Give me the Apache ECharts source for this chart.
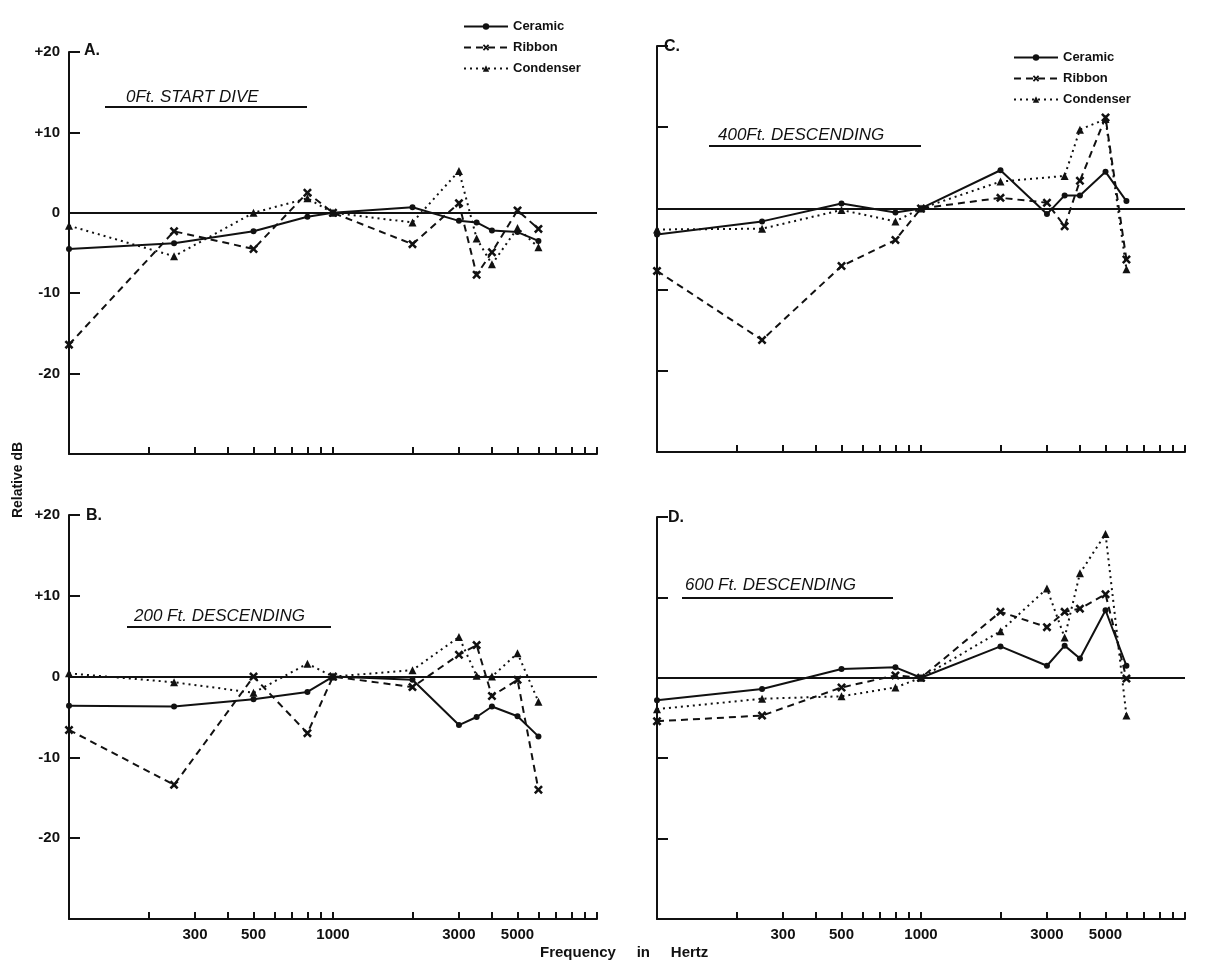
<!DOCTYPE html>
<html>
<head>
<meta charset="utf-8">
<title>Relative dB vs frequency</title>
<script src="https://cdn.jsdelivr.net/npm/echarts@6/dist/echarts.min.js"></script>
<style>
  html, body { margin: 0; padding: 0; background: #fff; }
  #chart { width: 1216px; height: 966px; }
</style>
</head>
<body>
<div id="chart"></div>
<script>
// frequencies measured (Hz)
var freqs = [100, 250, 500, 800, 1000, 2000, 3000, 3500, 4000, 5000, 6000];

// A. 0 ft, start dive
var ceramicA   = [-4.5, -3.8, -2.3, -0.5, 0, 0.7, -1.0, -1.2, -2.2, -2.4, -3.5];
var ribbonA    = [-16.4, -2.3, -4.5, 2.5, 0, -3.9, 1.2, -7.7, -4.9, 0.3, -2.0];
var condenserA = [-1.6, -5.4, 0, 1.8, 0, -1.2, 5.2, -3.2, -6.4, -1.9, -4.3];

// B. 200 ft descending
var ceramicB   = [-3.6, -3.7, -2.8, -1.9, 0, -0.4, -6.0, -5.0, -3.7, -4.9, -7.4];
var ribbonB    = [-6.6, -13.4, 0, -7.0, 0, -1.3, 2.7, 3.9, -2.4, -0.4, -14.0];
var condenserB = [0.4, -0.7, -2.0, 1.6, 0, 0.8, 4.9, 0.1, 0, 2.9, -3.1];

// C. 400 ft descending
var ceramicC   = [-3.2, -1.6, 0.6, -0.5, 0, 4.7, -0.7, 1.6, 1.6, 4.5, 0.9];
var ribbonC    = [-7.7, -16.2, -7.1, -3.9, 0, 1.3, 0.7, -2.2, 3.4, 11.2, -6.3];
var condenserC = [-2.6, -2.5, -0.2, -1.6, 0, 3.3, null, 4.0, 9.7, 11.0, -7.5];

// D. 600 ft descending
var ceramicD   = [-2.8, -1.4, 1.1, 1.3, 0, 3.9, 1.5, 4.0, 2.4, 8.4, 1.5];
var ribbonD    = [-5.4, -4.7, -1.2, 0.3, 0, 8.2, 6.3, 8.2, 8.6, 10.4, -0.1];
var condenserD = [-3.9, -2.6, -2.3, -1.2, 0, 5.8, 11.1, 5.0, 13.0, 17.9, -4.7];

var tickFreqs  = [200, 300, 400, 500, 600, 700, 800, 900, 1000,
                  2000, 3000, 4000, 5000, 6000, 7000, 8000, 9000, 10000];
var labelFreqs = [300, 500, 1000, 3000, 5000];

var ink = '#111';
var font = 'Liberation Sans';
var crossPath = 'path://M0,2L2,0L5,3L8,0L10,2L7,5L10,8L8,10L5,7L2,10L0,8L3,5Z';

function pairs(vals) {
	return freqs.map(function (f, i) { return [f, vals[i]]; });
}

function makeX(idx, withLabels) {
	return {
		type: 'log', logBase: 10, min: 100, max: 10000, gridIndex: idx,
		axisLine: { onZero: false, lineStyle: { color: ink, width: 2 } },
		axisTick: { inside: true, length: 7, customValues: tickFreqs, lineStyle: { color: ink, width: 2 } },
		axisLabel: {
			show: withLabels, customValues: labelFreqs, margin: 8,
			color: ink, fontFamily: font, fontWeight: 'bold', fontSize: 15,
			formatter: function (v) { return String(v); }
		},
		minorTick: { show: false },
		splitLine: { show: false }
	};
}

function makeY(idx, withLabels) {
	return {
		type: 'value', min: -30, max: 20, interval: 10, gridIndex: idx,
		axisLine: { show: true, lineStyle: { color: ink, width: 2 } },
		axisTick: { show: true, inside: true, length: 11, lineStyle: { color: ink, width: 2 } },
		axisLabel: {
			show: withLabels, margin: 9, color: ink, fontFamily: font, fontWeight: 'bold', fontSize: 15,
			formatter: function (v) {
				if (v === -30) return '';
				return v > 0 ? '+' + v : String(v);
			}
		},
		splitLine: { show: false }
	};
}

function makeSeries(idx, ceramic, ribbon, condenser) {
	return [{
		name: 'Ceramic', type: 'line', xAxisIndex: idx, yAxisIndex: idx,
		data: pairs(ceramic), connectNulls: true,
		symbol: 'circle', symbolSize: 6,
		lineStyle: { color: ink, width: 2, type: 'solid' },
		itemStyle: { color: ink },
		markLine: {
			silent: true, symbol: 'none', label: { show: false },
			lineStyle: { color: ink, width: 2, type: 'solid' },
			data: [{ yAxis: 0 }]
		}
	}, {
		name: 'Ribbon', type: 'line', xAxisIndex: idx, yAxisIndex: idx,
		data: pairs(ribbon), connectNulls: true,
		symbol: crossPath, symbolSize: 9,
		lineStyle: { color: ink, width: 2, type: [7, 5] },
		itemStyle: { color: ink }
	}, {
		name: 'Condenser', type: 'line', xAxisIndex: idx, yAxisIndex: idx,
		data: pairs(condenser), connectNulls: true,
		symbol: 'triangle', symbolSize: 8,
		lineStyle: { color: ink, width: 2, type: [2, 4] },
		itemStyle: { color: ink }
	}];
}

function legendAt(left, top) {
	return {
		left: left, top: top, orient: 'vertical', itemGap: 8,
		itemWidth: 44, itemHeight: 8,
		data: ['Ceramic', 'Ribbon', 'Condenser'],
		textStyle: { color: ink, fontFamily: font, fontWeight: 'bold', fontSize: 13 }
	};
}

function heading(x, y, text, lineFrom, lineTo, lineY) {
	return [{
		type: 'text', x: x, y: y,
		style: { text: text, fill: ink, font: 'italic 17px "' + font + '"', verticalAlign: 'middle' }
	}, {
		type: 'line', shape: { x1: lineFrom, y1: lineY, x2: lineTo, y2: lineY },
		style: { stroke: ink, lineWidth: 2 }
	}];
}

function letter(x, y, text) {
	return {
		type: 'text', x: x, y: y,
		style: { text: text, fill: ink, font: 'bold 16px "' + font + '"', verticalAlign: 'middle' }
	};
}

var chart = echarts.init(document.getElementById('chart'));
var option = {
	animation: false,
	backgroundColor: '#fff',
	grid: [
		{ left: 69, top: 52, width: 528, height: 402 },
		{ left: 69, top: 515, width: 528, height: 404 },
		{ left: 657, top: 46, width: 528, height: 406 },
		{ left: 657, top: 517, width: 528, height: 402 }
	],
	xAxis: [makeX(0, false), makeX(1, true), makeX(2, false), makeX(3, true)],
	yAxis: [makeY(0, true), makeY(1, true), makeY(2, false), makeY(3, false)],
	legend: [legendAt(458, 15), legendAt(1008, 46)],
	series: [].concat(
		makeSeries(0, ceramicA, ribbonA, condenserA),
		makeSeries(1, ceramicB, ribbonB, condenserB),
		makeSeries(2, ceramicC, ribbonC, condenserC),
		makeSeries(3, ceramicD, ribbonD, condenserD)
	),
	graphic: [].concat(
		heading(126, 97, '0Ft. START DIVE', 105, 307, 107),
		heading(134, 616, '200 Ft. DESCENDING', 127, 331, 627),
		heading(718, 135, '400Ft. DESCENDING', 709, 921, 146),
		heading(685, 585, '600 Ft. DESCENDING', 682, 893, 598),
		[
			letter(84, 51, 'A.'),
			letter(86, 516, 'B.'),
			letter(664, 47, 'C.'),
			letter(668, 518, 'D.'),
			{
				type: 'text', x: 18, y: 480, rotation: Math.PI / 2,
				style: { text: 'Relative dB', fill: ink, font: 'bold 14px "' + font + '"', align: 'center', verticalAlign: 'middle' }
			},
			{
				type: 'text', x: 540, y: 953,
				style: { text: 'Frequency     in     Hertz', fill: ink, font: 'bold 15px "' + font + '"', verticalAlign: 'middle' }
			}
		]
	)
};
chart.setOption(option);
</script>
</body>
</html>
